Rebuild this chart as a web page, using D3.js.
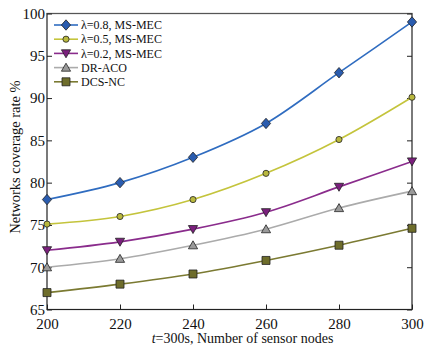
<!DOCTYPE html>
<html>
<head>
<meta charset="utf-8">
<script src="https://cdn.jsdelivr.net/npm/d3@7"></script>
<style>
  html, body { margin: 0; padding: 0; background: #fff; }
  svg { display: block; font-family: "Liberation Serif", "Times New Roman", serif; }
</style>
</head>
<body>
<svg id="chart" width="425" height="352"></svg>
<script>
// Sensor node counts on the x axis
const nodes = [200, 220, 240, 260, 280, 300];

// Coverage rate (%) per method
const ms08 = [78, 80, 83, 87, 93, 99];
const ms05 = [75.1, 76, 78, 81.1, 85.1, 90.1];
const ms02 = [72, 73, 74.5, 76.5, 79.5, 82.5];
const drAco = [70, 71, 72.6, 74.5, 77, 79];
const dcsNc = [67, 68, 69.2, 70.8, 72.6, 74.6];

const seriesNames = ["λ=0.8, MS-MEC", "λ=0.5, MS-MEC", "λ=0.2, MS-MEC", "DR-ACO", "DCS-NC"];

const xTicks = [200, 220, 240, 260, 280, 300];
const yTicks = [65, 70, 75, 80, 85, 90, 95, 100];

const series = [
  { name: seriesNames[0], values: ms08, line: "#2f6cc0", fill: "#2a5caf", shape: "diamond" },
  { name: seriesNames[1], values: ms05, line: "#c4c43c", fill: "#b9b83e", shape: "circle" },
  { name: seriesNames[2], values: ms02, line: "#8a2c8c", fill: "#7b1f7d", shape: "triDown" },
  { name: seriesNames[3], values: drAco, line: "#ababab", fill: "#9a9a9a", shape: "triUp" },
  { name: seriesNames[4], values: dcsNc, line: "#7b7a32", fill: "#6e6d2b", shape: "square" }
];

const svg = d3.select("#chart");
const plotL = 47, plotR = 412, plotT = 13.5, plotB = 309.5;

const x = d3.scaleLinear().domain([200, 300]).range([plotL, plotR]);
const y = d3.scaleLinear().domain([65, 100]).range([plotB, plotT]);

// Marker shapes
function markerPath(shape) {
  switch (shape) {
    case "diamond": return "M0,-5.2L4.6,0L0,5.2L-4.6,0Z";
    case "circle": return d3.symbol(d3.symbolCircle, 30)();
    case "triDown": return "M-4.6,-3.6L4.6,-3.6L0,4.4Z";
    case "triUp": return "M-4.6,3.6L4.6,3.6L0,-4.4Z";
    case "square": return "M-4,-4L4,-4L4,4L-4,4Z";
  }
}

// Frame
svg.append("rect")
  .attr("x", plotL).attr("y", plotT)
  .attr("width", plotR - plotL).attr("height", plotB - plotT)
  .attr("fill", "none").attr("stroke", "#222").attr("stroke-width", 1.2);
svg.append("line")
  .attr("x1", plotL).attr("x2", plotR).attr("y1", plotT).attr("y2", plotT)
  .attr("stroke", "#555").attr("stroke-width", 1.2);

// Axes with inward ticks
const xAxis = d3.axisBottom(x).tickValues(xTicks).tickSize(-5).tickPadding(9).tickFormat(d3.format("d"));
const gx = svg.append("g").attr("transform", `translate(0,${plotB})`).call(xAxis);
gx.select(".domain").remove();
gx.selectAll(".tick line").attr("stroke", "#222");
gx.selectAll(".tick text").attr("font-size", 15).attr("fill", "#111").attr("font-family", "Liberation Serif");

const yAxis = d3.axisLeft(y).tickValues(yTicks).tickSize(-5).tickPadding(2).tickFormat(d3.format("d"));
const gy = svg.append("g").attr("transform", `translate(${plotL},0)`).call(yAxis);
gy.select(".domain").remove();
gy.selectAll(".tick line").attr("stroke", "#222");
gy.selectAll(".tick text").attr("font-size", 15).attr("fill", "#111").attr("font-family", "Liberation Serif");

const gyr = svg.append("g").attr("transform", `translate(${plotR},0)`)
  .call(d3.axisRight(y).tickValues(yTicks).tickSize(-5).tickFormat(""));
gyr.select(".domain").remove();
gyr.selectAll(".tick line").attr("stroke", "#222");

// Axis titles
const xt = svg.append("text")
  .attr("x", (plotL + plotR) / 2 + 13).attr("y", 343)
  .attr("text-anchor", "middle").attr("font-size", 14).attr("fill", "#111");
xt.append("tspan").attr("font-style", "italic").text("t");
xt.append("tspan").text("=300s, Number of sensor nodes");

svg.append("text")
  .attr("transform", `translate(20,157) rotate(-90)`)
  .attr("text-anchor", "middle").attr("font-size", 14.5).attr("fill", "#111")
  .text("Networks coverage rate %");

// Series lines and markers
const line = d3.line().x((d, i) => x(nodes[i])).y(d => y(d)).curve(d3.curveMonotoneX);

series.forEach(s => {
  svg.append("path")
    .attr("d", line(s.values))
    .attr("fill", "none").attr("stroke", s.line).attr("stroke-width", 1.6);
  svg.append("g").selectAll("path")
    .data(s.values).join("path")
    .attr("transform", (d, i) => `translate(${x(nodes[i])},${y(d)})`)
    .attr("d", markerPath(s.shape))
    .attr("fill", s.fill).attr("stroke", "#222").attr("stroke-width", 0.8);
});

// Legend
const legend = svg.append("g");
series.forEach((s, i) => {
  const ly = 25 + i * 14.2;
  legend.append("line")
    .attr("x1", 54).attr("x2", 78).attr("y1", ly).attr("y2", ly)
    .attr("stroke", s.line).attr("stroke-width", 1.6);
  legend.append("path")
    .attr("transform", `translate(66,${ly})`)
    .attr("d", markerPath(s.shape))
    .attr("fill", s.fill).attr("stroke", "#222").attr("stroke-width", 0.8);
  legend.append("text")
    .attr("x", 81).attr("y", ly + 4.2)
    .attr("font-size", 12).attr("fill", "#111")
    .text(s.name);
});
</script>
</body>
</html>
